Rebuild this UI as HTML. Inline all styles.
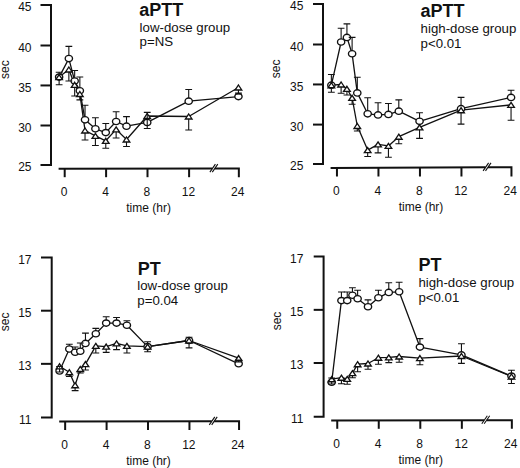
<!DOCTYPE html>
<html><head><meta charset="utf-8"><style>
html,body{margin:0;padding:0;background:#fff;}
body{width:520px;height:468px;overflow:hidden;}
svg{display:block;}
text{font-family:"Liberation Sans",sans-serif;fill:#111;}
.t12{font-size:12px;}
.t13{font-size:13.25px;}
.tb{font-size:18px;font-weight:bold;}
.ax{fill:none;stroke:#111;stroke-width:2;stroke-linecap:butt;stroke-linejoin:miter;}
.brk{fill:none;stroke:#111;stroke-width:1.1;}
.err{fill:none;stroke:#111;stroke-width:1.1;}
.ln{fill:none;stroke:#111;stroke-width:1.3;stroke-linejoin:round;}
.mk{fill:#fff;stroke:#111;stroke-width:1.35;}
</style></head><body>
<svg width="520" height="468" viewBox="0 0 520 468">
<path d="M40.5 5 H51 V164.9 H40.5" class="ax"/>
<path d="M40.5 45.5 H51" class="ax"/>
<path d="M40.5 85.45 H51" class="ax"/>
<path d="M40.5 125.5 H51" class="ax"/>
<text x="31.5" y="11.1" class="t12" text-anchor="end">45</text>
<text x="31.5" y="51.6" class="t12" text-anchor="end">40</text>
<text x="31.5" y="91.55" class="t12" text-anchor="end">35</text>
<text x="31.5" y="131.6" class="t12" text-anchor="end">30</text>
<text x="31.5" y="171" class="t12" text-anchor="end">25</text>
<path d="M58.6 168.85 L212.3 168.47 M214.8 168.46 L238.85 168.4 L238.85 177.2" class="ax"/>
<path d="M64.7 168.83 V177.2" class="ax"/>
<path d="M106.1 168.73 V177.2" class="ax"/>
<path d="M147.5 168.63 V177.2" class="ax"/>
<path d="M189.1 168.53 V177.2" class="ax"/>
<path d="M209.9 172.07 L215.4 164.07 M212.3 172.07 L217.8 164.07" class="brk"/>
<text x="64.1" y="195.7" class="t12" text-anchor="middle">0</text>
<text x="105.5" y="195.7" class="t12" text-anchor="middle">4</text>
<text x="146.9" y="195.7" class="t12" text-anchor="middle">8</text>
<text x="188.5" y="195.7" class="t12" text-anchor="middle">12</text>
<text x="237.65" y="195.7" class="t12" text-anchor="middle">24</text>
<text x="148.6" y="211.7" class="t12" text-anchor="middle">time (hr)</text>
<text x="0" y="0" class="t12" text-anchor="middle" transform="translate(4.7 69.7) rotate(-90)" dy="4.3">sec</text>
<text x="139.3" y="15.6" class="tb">aPTT</text>
<text x="139.6" y="31.8" class="t13">low-dose group</text>
<text x="139.6" y="46.4" class="t13">p=NS</text>
<polyline points="59.12,77.1 68.86,69.5 74.67,84.8 79.85,94 85.03,130.5 95.4,135.9 105.77,140.8 116.13,129.4 126.5,139.5 147.23,116 188.7,116.5 238.45,87.5" class="ln"/>
<polyline points="59.12,77.1 68.86,58.6 74.67,81 79.85,90.8 85.03,119.8 95.4,128.8 105.77,132.6 116.13,121.5 126.5,126.2 147.23,122.4 188.7,101.2 238.45,96.6" class="ln"/>
<ellipse cx="59.12" cy="77.1" rx="3.65" ry="3.15" class="mk"/>
<ellipse cx="68.86" cy="58.6" rx="3.65" ry="3.15" class="mk"/>
<ellipse cx="74.67" cy="81" rx="3.65" ry="3.15" class="mk"/>
<ellipse cx="79.85" cy="90.8" rx="3.65" ry="3.15" class="mk"/>
<ellipse cx="85.03" cy="119.8" rx="3.65" ry="3.15" class="mk"/>
<ellipse cx="95.4" cy="128.8" rx="3.65" ry="3.15" class="mk"/>
<ellipse cx="105.77" cy="132.6" rx="3.65" ry="3.15" class="mk"/>
<ellipse cx="116.13" cy="121.5" rx="3.65" ry="3.15" class="mk"/>
<ellipse cx="126.5" cy="126.2" rx="3.65" ry="3.15" class="mk"/>
<ellipse cx="147.23" cy="122.4" rx="3.65" ry="3.15" class="mk"/>
<ellipse cx="188.7" cy="101.2" rx="3.65" ry="3.15" class="mk"/>
<ellipse cx="238.45" cy="96.6" rx="3.65" ry="3.15" class="mk"/>
<path d="M59.12 74.6 L62.42 79.6 L55.82 79.6 Z" class="mk"/>
<path d="M68.86 67 L72.16 72 L65.56 72 Z" class="mk"/>
<path d="M74.67 82.3 L77.97 87.3 L71.37 87.3 Z" class="mk"/>
<path d="M79.85 91.5 L83.15 96.5 L76.55 96.5 Z" class="mk"/>
<path d="M85.03 128 L88.33 133 L81.73 133 Z" class="mk"/>
<path d="M95.4 133.4 L98.7 138.4 L92.1 138.4 Z" class="mk"/>
<path d="M105.77 138.3 L109.07 143.3 L102.47 143.3 Z" class="mk"/>
<path d="M116.13 126.9 L119.43 131.9 L112.83 131.9 Z" class="mk"/>
<path d="M126.5 137 L129.8 142 L123.2 142 Z" class="mk"/>
<path d="M147.23 113.5 L150.53 118.5 L143.93 118.5 Z" class="mk"/>
<path d="M188.7 114 L192 119 L185.4 119 Z" class="mk"/>
<path d="M238.45 85 L241.75 90 L235.15 90 Z" class="mk"/>
<path d="M59.12 73.95 V72.2 M55.72 72.2 H62.52" class="err"/>
<path d="M68.86 55.45 V46.4 M65.46 46.4 H72.26" class="err"/>
<path d="M74.67 77.85 V70.5 M71.27 70.5 H78.07" class="err"/>
<path d="M79.85 87.65 V77 M76.45 77 H83.25" class="err"/>
<path d="M85.03 116.65 V105.2 M81.63 105.2 H88.43" class="err"/>
<path d="M95.4 125.65 V117.7 M92 117.7 H98.8" class="err"/>
<path d="M105.77 129.45 V123.5 M102.37 123.5 H109.17" class="err"/>
<path d="M116.13 118.35 V111.7 M112.73 111.7 H119.53" class="err"/>
<path d="M126.5 123.05 V116.6 M123.1 116.6 H129.9" class="err"/>
<path d="M147.23 119.25 V112.4 M143.83 112.4 H150.63" class="err"/>
<path d="M188.7 98.05 V89.5 M185.3 89.5 H192.1" class="err"/>
<path d="M238.45 93.45 V94 M235.05 94 H241.85" class="err"/>
<path d="M59.12 79.6 V84.8 M55.72 84.8 H62.52" class="err"/>
<path d="M68.86 72 V81 M65.46 81 H72.26" class="err"/>
<path d="M74.67 87.3 V96 M71.27 96 H78.07" class="err"/>
<path d="M79.85 96.5 V99.9 M76.45 99.9 H83.25" class="err"/>
<path d="M85.03 133 V140 M81.63 140 H88.43" class="err"/>
<path d="M95.4 138.4 V145.5 M92 145.5 H98.8" class="err"/>
<path d="M105.77 143.3 V148.2 M102.37 148.2 H109.17" class="err"/>
<path d="M116.13 131.9 V138 M112.73 138 H119.53" class="err"/>
<path d="M126.5 142 V146.5 M123.1 146.5 H129.9" class="err"/>
<path d="M147.23 118.5 V128.5 M143.83 128.5 H150.63" class="err"/>
<path d="M188.7 119 V130 M185.3 130 H192.1" class="err"/>
<path d="M238.45 90 V93 M235.05 93 H241.85" class="err"/>
<path d="M313 4.1 H323 V164 H313" class="ax"/>
<path d="M313 44.5 H323" class="ax"/>
<path d="M313 84.45 H323" class="ax"/>
<path d="M313 124.6 H323" class="ax"/>
<text x="303.4" y="10.2" class="t12" text-anchor="end">45</text>
<text x="303.4" y="50.6" class="t12" text-anchor="end">40</text>
<text x="303.4" y="90.55" class="t12" text-anchor="end">35</text>
<text x="303.4" y="130.7" class="t12" text-anchor="end">30</text>
<text x="303.4" y="170.1" class="t12" text-anchor="end">25</text>
<path d="M330.6 167.9 L485.5 167.26 M488 167.25 L511.45 167.15 L511.45 176.5" class="ax"/>
<path d="M336.95 167.87 V176.5" class="ax"/>
<path d="M378.45 167.7 V176.5" class="ax"/>
<path d="M419.95 167.53 V176.5" class="ax"/>
<path d="M461.45 167.36 V176.5" class="ax"/>
<path d="M483.1 170.85 L488.6 162.85 M485.5 170.85 L491 162.85" class="brk"/>
<text x="336.35" y="194.8" class="t12" text-anchor="middle">0</text>
<text x="377.85" y="194.8" class="t12" text-anchor="middle">4</text>
<text x="419.35" y="194.8" class="t12" text-anchor="middle">8</text>
<text x="460.85" y="194.8" class="t12" text-anchor="middle">12</text>
<text x="510.25" y="194.8" class="t12" text-anchor="middle">24</text>
<text x="421" y="210.8" class="t12" text-anchor="middle">time (hr)</text>
<text x="0" y="0" class="t12" text-anchor="middle" transform="translate(275.9 68.8) rotate(-90)" dy="4.3">sec</text>
<text x="420.5" y="16.7" class="tb">aPTT</text>
<text x="420.6" y="32.5" class="t13">high-dose group</text>
<text x="420.6" y="47.5" class="t13">p<0.01</text>
<polyline points="331.36,85.2 341.12,84.5 346.93,88.8 352.11,97.8 357.3,126 367.68,150.1 378.05,144.4 388.43,145.9 398.8,136.7 419.55,127.3 461.05,110.2 511.05,104.9" class="ln"/>
<polyline points="331.36,85.2 341.12,42 346.93,37.4 352.11,53.8 357.3,92.9 367.68,113.8 378.05,114.9 388.43,114.4 398.8,111.2 419.55,121.3 461.05,108.7 511.05,97.4" class="ln"/>
<ellipse cx="331.36" cy="85.2" rx="3.65" ry="3.15" class="mk"/>
<ellipse cx="341.12" cy="42" rx="3.65" ry="3.15" class="mk"/>
<ellipse cx="346.93" cy="37.4" rx="3.65" ry="3.15" class="mk"/>
<ellipse cx="352.11" cy="53.8" rx="3.65" ry="3.15" class="mk"/>
<ellipse cx="357.3" cy="92.9" rx="3.65" ry="3.15" class="mk"/>
<ellipse cx="367.68" cy="113.8" rx="3.65" ry="3.15" class="mk"/>
<ellipse cx="378.05" cy="114.9" rx="3.65" ry="3.15" class="mk"/>
<ellipse cx="388.43" cy="114.4" rx="3.65" ry="3.15" class="mk"/>
<ellipse cx="398.8" cy="111.2" rx="3.65" ry="3.15" class="mk"/>
<ellipse cx="419.55" cy="121.3" rx="3.65" ry="3.15" class="mk"/>
<ellipse cx="461.05" cy="108.7" rx="3.65" ry="3.15" class="mk"/>
<ellipse cx="511.05" cy="97.4" rx="3.65" ry="3.15" class="mk"/>
<path d="M331.36 82.7 L334.66 87.7 L328.06 87.7 Z" class="mk"/>
<path d="M341.12 82 L344.42 87 L337.81 87 Z" class="mk"/>
<path d="M346.93 86.3 L350.23 91.3 L343.62 91.3 Z" class="mk"/>
<path d="M352.11 95.3 L355.41 100.3 L348.81 100.3 Z" class="mk"/>
<path d="M357.3 123.5 L360.6 128.5 L354 128.5 Z" class="mk"/>
<path d="M367.68 147.6 L370.98 152.6 L364.38 152.6 Z" class="mk"/>
<path d="M378.05 141.9 L381.35 146.9 L374.75 146.9 Z" class="mk"/>
<path d="M388.43 143.4 L391.73 148.4 L385.12 148.4 Z" class="mk"/>
<path d="M398.8 134.2 L402.1 139.2 L395.5 139.2 Z" class="mk"/>
<path d="M419.55 124.8 L422.85 129.8 L416.25 129.8 Z" class="mk"/>
<path d="M461.05 107.7 L464.35 112.7 L457.75 112.7 Z" class="mk"/>
<path d="M511.05 102.4 L514.35 107.4 L507.75 107.4 Z" class="mk"/>
<path d="M331.36 82.05 V74.5 M327.96 74.5 H334.76" class="err"/>
<path d="M341.12 38.85 V28.2 M337.72 28.2 H344.51" class="err"/>
<path d="M346.93 34.25 V23.9 M343.53 23.9 H350.32" class="err"/>
<path d="M352.11 50.65 V37.4 M348.71 37.4 H355.51" class="err"/>
<path d="M357.3 89.75 V77.3 M353.9 77.3 H360.7" class="err"/>
<path d="M367.68 110.65 V97.8 M364.28 97.8 H371.07" class="err"/>
<path d="M378.05 111.75 V102.7 M374.65 102.7 H381.45" class="err"/>
<path d="M388.43 111.25 V103.5 M385.03 103.5 H391.82" class="err"/>
<path d="M398.8 108.05 V99.9 M395.4 99.9 H402.2" class="err"/>
<path d="M419.55 118.15 V112.7 M416.15 112.7 H422.95" class="err"/>
<path d="M461.05 105.55 V97.4 M457.65 97.4 H464.45" class="err"/>
<path d="M511.05 94.25 V90.3 M507.65 90.3 H514.45" class="err"/>
<path d="M331.36 87.7 V92.3 M327.96 92.3 H334.76" class="err"/>
<path d="M341.12 87 V93.3 M337.72 93.3 H344.51" class="err"/>
<path d="M346.93 91.3 V95 M343.53 95 H350.32" class="err"/>
<path d="M352.11 100.3 V104.2 M348.71 104.2 H355.51" class="err"/>
<path d="M357.3 128.5 V131 M353.9 131 H360.7" class="err"/>
<path d="M367.68 152.6 V156.5 M364.28 156.5 H371.07" class="err"/>
<path d="M378.05 146.9 V152.9 M374.65 152.9 H381.45" class="err"/>
<path d="M388.43 148.4 V157.2 M385.03 157.2 H391.82" class="err"/>
<path d="M398.8 139.2 V143.7 M395.4 143.7 H402.2" class="err"/>
<path d="M419.55 129.8 V138.4 M416.15 138.4 H422.95" class="err"/>
<path d="M461.05 112.7 V124.1 M457.65 124.1 H464.45" class="err"/>
<path d="M511.05 107.4 V120.3 M507.65 120.3 H514.45" class="err"/>
<path d="M41 257.5 H51.7 V417.5 H41" class="ax"/>
<path d="M41 310.7 H51.7" class="ax"/>
<path d="M41 363.85 H51.7" class="ax"/>
<text x="31.5" y="263.6" class="t12" text-anchor="end">17</text>
<text x="31.5" y="316.8" class="t12" text-anchor="end">15</text>
<text x="31.5" y="369.95" class="t12" text-anchor="end">13</text>
<text x="31.5" y="423.6" class="t12" text-anchor="end">11</text>
<path d="M59.2 421.6 L211.7 421.22 M214.2 421.21 L239.05 421.15 L239.05 430" class="ax"/>
<path d="M65.15 421.59 V430" class="ax"/>
<path d="M106.6 421.48 V430" class="ax"/>
<path d="M148 421.38 V430" class="ax"/>
<path d="M189.45 421.28 V430" class="ax"/>
<path d="M209.3 424.82 L214.8 416.82 M211.7 424.82 L217.2 416.82" class="brk"/>
<text x="64.55" y="448.9" class="t12" text-anchor="middle">0</text>
<text x="106" y="448.9" class="t12" text-anchor="middle">4</text>
<text x="147.4" y="448.9" class="t12" text-anchor="middle">8</text>
<text x="188.85" y="448.9" class="t12" text-anchor="middle">12</text>
<text x="237.85" y="448.9" class="t12" text-anchor="middle">24</text>
<text x="148.5" y="464.6" class="t12" text-anchor="middle">time (hr)</text>
<text x="0" y="0" class="t12" text-anchor="middle" transform="translate(5 321.8) rotate(-90)" dy="4.3">sec</text>
<text x="137.7" y="274.5" class="tb">PT</text>
<text x="137.3" y="290.2" class="t13">low-dose group</text>
<text x="137.3" y="305.2" class="t13">p=0.04</text>
<polyline points="59.57,366.3 69.31,372.2 75.11,385.2 80.29,369 85.47,364.1 95.82,345.9 106.18,346.6 116.54,343.4 126.9,345.9 147.62,346.6 189.05,340.5 238.65,358.1" class="ln"/>
<polyline points="59.57,371 69.31,349 75.11,352.3 80.29,351.3 85.47,343.4 95.82,333.8 106.18,323.1 116.54,323.1 126.9,325.2 147.62,346.6 189.05,340.5 238.65,363.8" class="ln"/>
<ellipse cx="59.57" cy="371" rx="3.65" ry="3.15" class="mk"/>
<ellipse cx="69.31" cy="349" rx="3.65" ry="3.15" class="mk"/>
<ellipse cx="75.11" cy="352.3" rx="3.65" ry="3.15" class="mk"/>
<ellipse cx="80.29" cy="351.3" rx="3.65" ry="3.15" class="mk"/>
<ellipse cx="85.47" cy="343.4" rx="3.65" ry="3.15" class="mk"/>
<ellipse cx="95.82" cy="333.8" rx="3.65" ry="3.15" class="mk"/>
<ellipse cx="106.18" cy="323.1" rx="3.65" ry="3.15" class="mk"/>
<ellipse cx="116.54" cy="323.1" rx="3.65" ry="3.15" class="mk"/>
<ellipse cx="126.9" cy="325.2" rx="3.65" ry="3.15" class="mk"/>
<ellipse cx="147.62" cy="346.6" rx="3.65" ry="3.15" class="mk"/>
<ellipse cx="189.05" cy="340.5" rx="3.65" ry="3.15" class="mk"/>
<ellipse cx="238.65" cy="363.8" rx="3.65" ry="3.15" class="mk"/>
<path d="M59.57 363.8 L62.87 368.8 L56.27 368.8 Z" class="mk"/>
<path d="M69.31 369.7 L72.61 374.7 L66.01 374.7 Z" class="mk"/>
<path d="M75.11 382.7 L78.41 387.7 L71.81 387.7 Z" class="mk"/>
<path d="M80.29 366.5 L83.59 371.5 L76.99 371.5 Z" class="mk"/>
<path d="M85.47 361.6 L88.77 366.6 L82.17 366.6 Z" class="mk"/>
<path d="M95.82 343.4 L99.12 348.4 L92.52 348.4 Z" class="mk"/>
<path d="M106.18 344.1 L109.48 349.1 L102.88 349.1 Z" class="mk"/>
<path d="M116.54 340.9 L119.84 345.9 L113.24 345.9 Z" class="mk"/>
<path d="M126.9 343.4 L130.2 348.4 L123.6 348.4 Z" class="mk"/>
<path d="M147.62 344.1 L150.92 349.1 L144.32 349.1 Z" class="mk"/>
<path d="M189.05 338 L192.35 343 L185.75 343 Z" class="mk"/>
<path d="M238.65 355.6 L241.95 360.6 L235.35 360.6 Z" class="mk"/>
<path d="M59.57 367.85 V366.5 M56.17 366.5 H62.97" class="err"/>
<path d="M69.31 345.85 V344.3 M65.91 344.3 H72.71" class="err"/>
<path d="M75.11 349.15 V347 M71.71 347 H78.51" class="err"/>
<path d="M80.29 348.15 V343 M76.89 343 H83.69" class="err"/>
<path d="M85.47 340.25 V333.1 M82.07 333.1 H88.87" class="err"/>
<path d="M95.82 330.65 V328.4 M92.42 328.4 H99.22" class="err"/>
<path d="M106.18 319.95 V316.7 M102.78 316.7 H109.58" class="err"/>
<path d="M116.54 319.95 V317.5 M113.14 317.5 H119.94" class="err"/>
<path d="M126.9 322.05 V320.7 M123.5 320.7 H130.3" class="err"/>
<path d="M147.62 343.45 V341.8 M144.22 341.8 H151.02" class="err"/>
<path d="M189.05 337.35 V337.3 M185.65 337.3 H192.45" class="err"/>
<path d="M238.65 360.65 V360 M235.25 360 H242.05" class="err"/>
<path d="M59.57 368.8 V372 M56.17 372 H62.97" class="err"/>
<path d="M69.31 374.7 V376.5 M65.91 376.5 H72.71" class="err"/>
<path d="M75.11 387.7 V390.6 M71.71 390.6 H78.51" class="err"/>
<path d="M80.29 371.5 V373 M76.89 373 H83.69" class="err"/>
<path d="M85.47 366.6 V370 M82.07 370 H88.87" class="err"/>
<path d="M95.82 348.4 V353 M92.42 353 H99.22" class="err"/>
<path d="M106.18 349.1 V352.4 M102.78 352.4 H109.58" class="err"/>
<path d="M116.54 345.9 V349.6 M113.14 349.6 H119.94" class="err"/>
<path d="M126.9 348.4 V353 M123.5 353 H130.3" class="err"/>
<path d="M147.62 349.1 V351.7 M144.22 351.7 H151.02" class="err"/>
<path d="M189.05 343 V347.9 M185.65 347.9 H192.45" class="err"/>
<path d="M238.65 360.6 V362 M235.25 362 H242.05" class="err"/>
<path d="M313.7 256.4 H323.6 V416.8 H313.7" class="ax"/>
<path d="M313.7 309.85 H323.6" class="ax"/>
<path d="M313.7 363 H323.6" class="ax"/>
<text x="303.4" y="262.5" class="t12" text-anchor="end">17</text>
<text x="303.4" y="315.95" class="t12" text-anchor="end">15</text>
<text x="303.4" y="369.1" class="t12" text-anchor="end">13</text>
<text x="303.4" y="422.9" class="t12" text-anchor="end">11</text>
<path d="M331.2 420.55 L484.2 420.21 M486.7 420.21 L511.85 420.15 L511.85 428.8" class="ax"/>
<path d="M337.25 420.54 V428.8" class="ax"/>
<path d="M378.75 420.45 V428.8" class="ax"/>
<path d="M420.3 420.35 V428.8" class="ax"/>
<path d="M461.85 420.26 V428.8" class="ax"/>
<path d="M481.8 423.81 L487.3 415.81 M484.2 423.81 L489.7 415.81" class="brk"/>
<text x="336.65" y="448" class="t12" text-anchor="middle">0</text>
<text x="378.15" y="448" class="t12" text-anchor="middle">4</text>
<text x="419.7" y="448" class="t12" text-anchor="middle">8</text>
<text x="461.25" y="448" class="t12" text-anchor="middle">12</text>
<text x="510.65" y="448" class="t12" text-anchor="middle">24</text>
<text x="420.8" y="463.8" class="t12" text-anchor="middle">time (hr)</text>
<text x="0" y="0" class="t12" text-anchor="middle" transform="translate(276.6 321) rotate(-90)" dy="4.3">sec</text>
<text x="418.5" y="271.2" class="tb">PT</text>
<text x="418.4" y="287" class="t13">high-dose group</text>
<text x="418.4" y="302" class="t13">p<0.01</text>
<polyline points="331.66,379.2 341.42,377.7 347.23,378.9 352.43,373.1 357.62,364.2 368,363.5 378.38,357.7 388.77,357.4 399.15,356.5 419.92,358.1 461.45,356 511.45,376.5" class="ln"/>
<polyline points="331.66,382.3 341.42,300.6 347.23,300.6 352.43,295.2 357.62,298.8 368,306.8 378.38,297.8 388.77,292.4 399.15,291.8 419.92,347.1 461.45,354.9 511.45,376.1" class="ln"/>
<ellipse cx="331.66" cy="382.3" rx="3.65" ry="3.15" class="mk"/>
<ellipse cx="341.42" cy="300.6" rx="3.65" ry="3.15" class="mk"/>
<ellipse cx="347.23" cy="300.6" rx="3.65" ry="3.15" class="mk"/>
<ellipse cx="352.43" cy="295.2" rx="3.65" ry="3.15" class="mk"/>
<ellipse cx="357.62" cy="298.8" rx="3.65" ry="3.15" class="mk"/>
<ellipse cx="368" cy="306.8" rx="3.65" ry="3.15" class="mk"/>
<ellipse cx="378.38" cy="297.8" rx="3.65" ry="3.15" class="mk"/>
<ellipse cx="388.77" cy="292.4" rx="3.65" ry="3.15" class="mk"/>
<ellipse cx="399.15" cy="291.8" rx="3.65" ry="3.15" class="mk"/>
<ellipse cx="419.92" cy="347.1" rx="3.65" ry="3.15" class="mk"/>
<ellipse cx="461.45" cy="354.9" rx="3.65" ry="3.15" class="mk"/>
<ellipse cx="511.45" cy="376.1" rx="3.65" ry="3.15" class="mk"/>
<path d="M331.66 376.7 L334.96 381.7 L328.36 381.7 Z" class="mk"/>
<path d="M341.42 375.2 L344.72 380.2 L338.12 380.2 Z" class="mk"/>
<path d="M347.23 376.4 L350.53 381.4 L343.93 381.4 Z" class="mk"/>
<path d="M352.43 370.6 L355.73 375.6 L349.12 375.6 Z" class="mk"/>
<path d="M357.62 361.7 L360.92 366.7 L354.32 366.7 Z" class="mk"/>
<path d="M368 361 L371.3 366 L364.7 366 Z" class="mk"/>
<path d="M378.38 355.2 L381.68 360.2 L375.08 360.2 Z" class="mk"/>
<path d="M388.77 354.9 L392.07 359.9 L385.47 359.9 Z" class="mk"/>
<path d="M399.15 354 L402.45 359 L395.85 359 Z" class="mk"/>
<path d="M419.92 355.6 L423.22 360.6 L416.62 360.6 Z" class="mk"/>
<path d="M461.45 353.5 L464.75 358.5 L458.15 358.5 Z" class="mk"/>
<path d="M511.45 374 L514.75 379 L508.15 379 Z" class="mk"/>
<path d="M331.66 379.15 V378 M328.26 378 H335.06" class="err"/>
<path d="M341.42 297.45 V292 M338.02 292 H344.82" class="err"/>
<path d="M347.23 297.45 V292 M343.83 292 H350.63" class="err"/>
<path d="M352.43 292.05 V287.7 M349.03 287.7 H355.82" class="err"/>
<path d="M357.62 295.65 V290.3 M354.22 290.3 H361.02" class="err"/>
<path d="M368 303.65 V299.9 M364.6 299.9 H371.4" class="err"/>
<path d="M378.38 294.65 V290.3 M374.98 290.3 H381.78" class="err"/>
<path d="M388.77 289.25 V282.8 M385.37 282.8 H392.17" class="err"/>
<path d="M399.15 288.65 V282.2 M395.75 282.2 H402.55" class="err"/>
<path d="M419.92 343.95 V338.6 M416.52 338.6 H423.32" class="err"/>
<path d="M461.45 351.75 V343.7 M458.05 343.7 H464.85" class="err"/>
<path d="M511.45 372.95 V370.3 M508.05 370.3 H514.85" class="err"/>
<path d="M331.66 381.7 V384 M328.26 384 H335.06" class="err"/>
<path d="M341.42 380.2 V383.8 M338.02 383.8 H344.82" class="err"/>
<path d="M347.23 381.4 V384.2 M343.83 384.2 H350.63" class="err"/>
<path d="M352.43 375.6 V377.7 M349.03 377.7 H355.82" class="err"/>
<path d="M357.62 366.7 V371.8 M354.22 371.8 H361.02" class="err"/>
<path d="M368 366 V369.2 M364.6 369.2 H371.4" class="err"/>
<path d="M378.38 360.2 V364.2 M374.98 364.2 H381.78" class="err"/>
<path d="M388.77 359.9 V362.6 M385.37 362.6 H392.17" class="err"/>
<path d="M399.15 359 V362.3 M395.75 362.3 H402.55" class="err"/>
<path d="M419.92 360.6 V364.8 M416.52 364.8 H423.32" class="err"/>
<path d="M461.45 358.5 V363.4 M458.05 363.4 H464.85" class="err"/>
<path d="M511.45 379 V383.5 M508.05 383.5 H514.85" class="err"/>
</svg>
</body></html>
